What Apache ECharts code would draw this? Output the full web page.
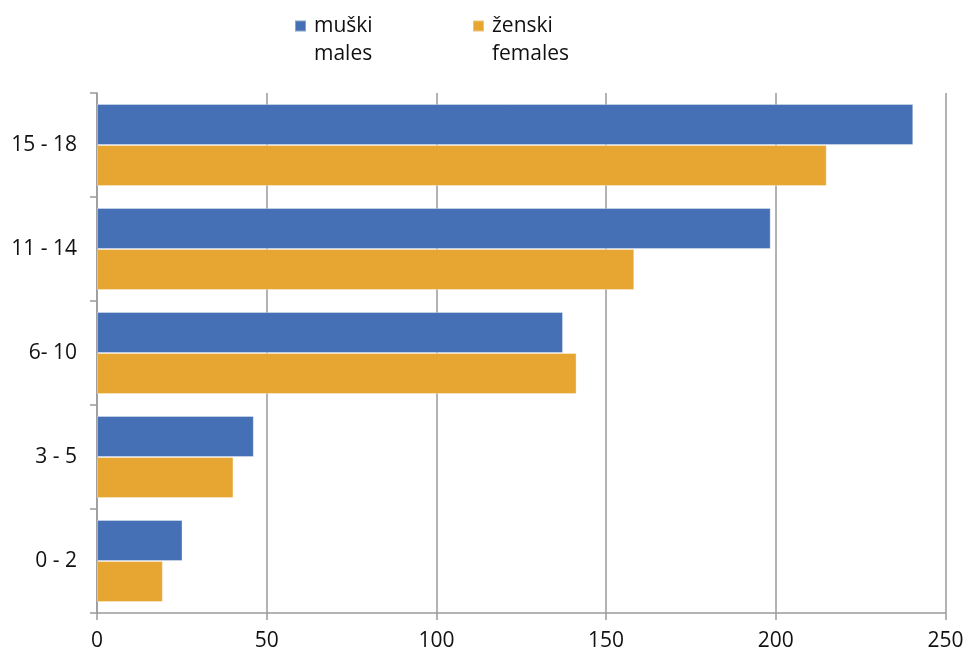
<!DOCTYPE html>
<html>
<head>
<meta charset="utf-8">
<script src="https://cdn.jsdelivr.net/npm/echarts@6/dist/echarts.min.js"></script>
<style>html,body{margin:0;padding:0;background:#fff}#c{width:968px;height:653px}</style>
</head>
<body>
<div id="c"></div>
<script>
var categories = ['15 - 18', '11 - 14', '6- 10', '3 - 5', '0 - 2'];
var males = [240.5, 198.5, 137.3, 46.2, 25.2];
var females = [215.0, 158.3, 141.3, 40.2, 19.4];
var maleNames = ['muški', 'males'];
var femaleNames = ['ženski', 'females'];
var xTicks = [0, 50, 100, 150, 200, 250];

var FONT = '"Open Sans", "Noto Sans", sans-serif';
var BLUE = '#4570b5';
var ORANGE = '#e7a532';
var GRAY = '#9a9a9a';

function legendFor(names, left) {
  return {
    left: left, top: -16, padding: 0,
    data: [names.join('\n')],
    icon: 'rect', itemWidth: 11, itemHeight: 11, itemGap: 0,
    selectedMode: false,
    formatter: function (n) { return '\n' + n; },
    textStyle: { fontFamily: FONT, fontSize: 21, color: '#111', lineHeight: 28, padding: [0, 0, 0, 3] }
  };
}

var chart = echarts.init(document.getElementById('c'), null, { renderer: 'canvas' });
chart.setOption({
  animation: false,
  legend: [legendFor(maleNames, 294), legendFor(femaleNames, 472)],
  grid: { left: 97, right: 22.5, top: 93, bottom: 40, containLabel: false },
  xAxis: {
    type: 'value', min: xTicks[0], max: xTicks[xTicks.length - 1], interval: 50,
    axisLine: { show: true, lineStyle: { color: GRAY, width: 1.5 } },
    axisTick: { show: true, length: 7, lineStyle: { color: GRAY, width: 1.5 } },
    splitLine: { show: true, lineStyle: { color: GRAY, width: 1.5 } },
    axisLabel: { fontFamily: FONT, fontSize: 21, color: '#111', margin: 18 }
  },
  yAxis: {
    type: 'category', data: categories, inverse: true,
    axisLine: { show: true, lineStyle: { color: GRAY, width: 1.5 } },
    axisTick: { show: true, length: 7, lineStyle: { color: GRAY, width: 1.5 } },
    axisLabel: { fontFamily: FONT, fontSize: 21, color: '#111', margin: 20 }
  },
  series: [
    { name: maleNames.join('\n'), type: 'bar', data: males, barGap: '0%', barCategoryGap: '21%',
      itemStyle: { color: BLUE, borderColor: 'rgba(255,255,255,0.35)', borderWidth: 1 } },
    { name: femaleNames.join('\n'), type: 'bar', data: females, barGap: '0%', barCategoryGap: '21%',
      itemStyle: { color: ORANGE, borderColor: 'rgba(255,255,255,0.35)', borderWidth: 1 } }
  ]
});
</script>
</body>
</html>
